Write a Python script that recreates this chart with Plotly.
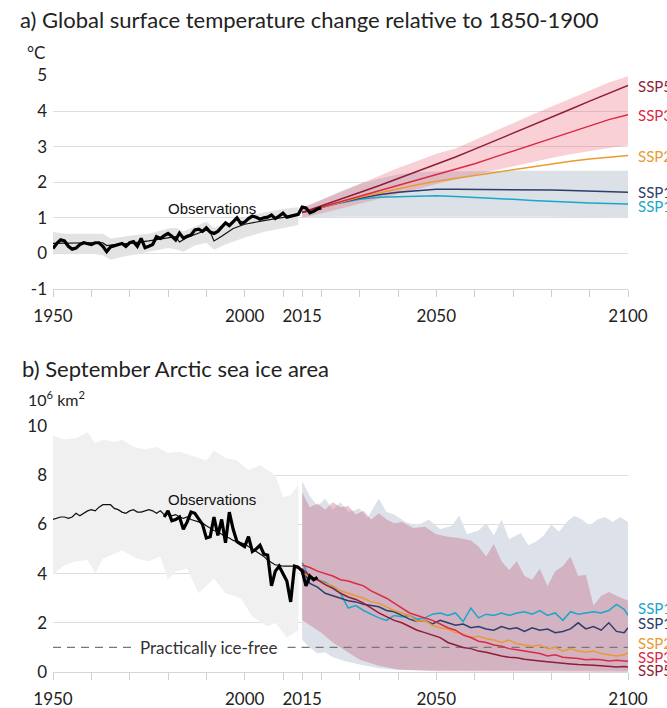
import plotly.graph_objects as go

# ---------------- Panel a: global surface temperature ----------------
obs_t_years = list(range(1950, 2021))
obs_t = [0.14, 0.28, 0.38, 0.35, 0.2, 0.12, 0.15, 0.25, 0.3, 0.28,
         0.25, 0.3, 0.3, 0.2, 0.05, 0.18, 0.22, 0.24, 0.28, 0.2,
         0.3, 0.33, 0.2, 0.42, 0.16, 0.2, 0.25, 0.47, 0.42, 0.5,
         0.56, 0.48, 0.38, 0.57, 0.43, 0.48, 0.52, 0.66, 0.68, 0.62,
         0.72, 0.6, 0.56, 0.62, 0.74, 0.86, 0.78, 0.9, 1.0, 0.84,
         0.88, 0.98, 1.05, 1.02, 0.96, 1.0, 1.02, 1.08, 0.98, 1.05,
         1.13, 1.02, 1.04, 1.06, 1.1, 1.3, 1.28, 1.14, 1.18, 1.25, 1.28]

hist_t_years = [1950, 1955, 1960, 1963, 1964, 1966, 1970, 1975, 1980, 1982, 1983,
                1985, 1990, 1991, 1992, 1994, 1997, 2000, 2005, 2010, 2014]
hist_t = [0.28, 0.3, 0.3, 0.3, 0.22, 0.25, 0.28, 0.35, 0.45, 0.47, 0.32,
          0.45, 0.65, 0.6, 0.35, 0.48, 0.7, 0.82, 0.92, 1.02, 1.08]

hist_t_band_years = [1950, 1953, 1956, 1960, 1963, 1965, 1968, 1970, 1975, 1980, 1982,
                     1984, 1987, 1990, 1992, 1995, 2000, 2005, 2010, 2014]
hist_t_upper = [0.6, 0.55, 0.55, 0.55, 0.55, 0.42, 0.48, 0.5, 0.55, 0.7, 0.72,
                0.62, 0.75, 0.9, 0.72, 0.85, 1.02, 1.15, 1.25, 1.3]
hist_t_lower = [0.0, 0.02, -0.02, 0.0, -0.05, -0.18, -0.1, -0.05, 0.05, 0.15, 0.12,
                0.05, 0.22, 0.3, 0.1, 0.25, 0.45, 0.6, 0.72, 0.8]

proj_t_years = list(range(2015, 2101, 5))
t_ssp585 = [1.15, 1.33, 1.52, 1.71, 1.9, 2.1, 2.3, 2.5, 2.71, 2.93, 3.15, 3.37, 3.6, 3.83, 4.05, 4.28, 4.5, 4.72]
t_ssp370 = [1.15, 1.3, 1.45, 1.6, 1.75, 1.9, 2.05, 2.2, 2.35, 2.52, 2.7, 2.88, 3.06, 3.24, 3.42, 3.6, 3.76, 3.9]
t_ssp245 = [1.15, 1.3, 1.45, 1.58, 1.7, 1.82, 1.93, 2.03, 2.11, 2.2, 2.28, 2.36, 2.44, 2.52, 2.59, 2.65, 2.7, 2.75]
t_ssp126 = [1.15, 1.3, 1.43, 1.55, 1.65, 1.72, 1.77, 1.8, 1.8, 1.8, 1.8, 1.8, 1.79, 1.78, 1.77, 1.75, 1.73, 1.72]
t_ssp119 = [1.15, 1.3, 1.42, 1.52, 1.58, 1.6, 1.62, 1.62, 1.6, 1.58, 1.55, 1.52, 1.49, 1.46, 1.44, 1.42, 1.4, 1.39]

t_high_upper = [1.3, 1.5, 1.72, 1.95, 2.18, 2.4, 2.6, 2.8, 2.95, 3.18, 3.42, 3.66, 3.9, 4.13, 4.35, 4.58, 4.8, 4.98]
t_high_lower = [1.0, 1.12, 1.25, 1.38, 1.52, 1.66, 1.8, 1.95, 2.08, 2.2, 2.33, 2.45, 2.57, 2.68, 2.79, 2.88, 2.96, 3.03]
t_low_upper = [1.25, 1.5, 1.75, 1.95, 2.1, 2.22, 2.28, 2.3, 2.31, 2.31, 2.32, 2.32, 2.32, 2.32, 2.32, 2.32, 2.32, 2.32]
t_low_lower = [1.0, 1.02, 1.03, 1.05, 1.05, 1.05, 1.05, 1.05, 1.05, 1.05, 1.04, 1.04, 1.03, 1.03, 1.02, 1.01, 1.0, 1.0]

# ---------------- Panel b: September Arctic sea ice area ----------------
obs_i_years = list(range(1979, 2020))
obs_i = [6.3, 6.55, 6.15, 6.2, 6.3, 5.8, 6.1, 6.5, 6.45, 6.2,
         6.0, 5.45, 5.5, 6.3, 5.55, 6.2, 5.25, 6.5, 5.8, 5.3,
         5.2, 5.1, 5.5, 4.9, 5.0, 5.15, 4.8, 4.75, 3.5, 4.1,
         4.3, 4.0, 3.7, 2.85, 4.3, 4.25, 4.1, 3.5, 3.9, 3.75, 3.85]

hist_i_years = list(range(1950, 2015))
hist_i = [6.2, 6.25, 6.3, 6.3, 6.25, 6.3, 6.45, 6.35, 6.45, 6.55,
          6.6, 6.55, 6.7, 6.8, 6.8, 6.8, 6.65, 6.6, 6.5, 6.45,
          6.55, 6.6, 6.5, 6.5, 6.55, 6.6, 6.55, 6.45, 6.55, 6.4,
          6.45, 6.35, 6.4, 6.3, 6.25, 6.3, 6.2, 6.15, 6.1, 6.05,
          5.95, 5.85, 5.75, 5.7, 5.6, 5.5, 5.45, 5.35, 5.3, 5.25,
          5.2, 5.1, 5.0, 4.9, 4.8, 4.7, 4.55, 4.45, 4.35, 4.35,
          4.3, 4.3, 4.3, 4.3, 4.3]

hist_i_up_years = [1950, 1953, 1956, 1959, 1961, 1963, 1966, 1968, 1971, 1974, 1977, 1980,
                   1983, 1986, 1990, 1992, 1995, 1998, 2001, 2004, 2008, 2010, 2012, 2014]
hist_i_upper = [9.6, 9.45, 9.5, 9.75, 9.3, 9.45, 9.35, 9.45, 9.15, 9.05, 9.15, 8.9,
                8.95, 8.8, 8.6, 9.0, 8.7, 8.6, 8.2, 8.4, 8.0, 7.1, 7.2, 7.6]
hist_i_lo_years = [1950, 1953, 1956, 1959, 1961, 1963, 1966, 1968, 1972, 1975, 1978, 1980,
                   1982, 1985, 1988, 1992, 1995, 1999, 2002, 2006, 2008, 2011, 2014]
hist_i_lower = [3.95, 4.35, 4.5, 4.55, 4.0, 4.6, 4.8, 4.95, 4.6, 4.5, 4.7, 3.75,
                4.1, 4.2, 3.2, 3.8, 3.2, 3.0, 2.25, 1.85, 2.0, 1.4, 1.7]

proj_i_years = list(range(2015, 2100, 2)) + [2100]
i_ssp119 = [4.45, 3.8, 3.75, 3.65, 3.45, 3.2, 2.6, 2.7, 2.5, 2.35, 2.2, 2.1, 2.3, 2.25, 2.3,
            2.15, 2.2, 2.35, 2.4, 2.3, 2.4, 2.05, 2.6, 2.2, 2.35, 2.3, 2.4, 2.3, 2.4, 2.45,
            2.35, 2.5, 2.3, 2.4, 2.1, 2.45, 2.35, 2.4, 2.45, 2.4, 2.5, 2.75, 2.55, 2.3]
i_ssp126 = [4.2, 3.6, 3.45, 3.2, 3.1, 3.0, 2.9, 2.85, 2.75, 2.7, 2.65, 2.5, 2.45, 2.3, 2.15,
            2.05, 2.1, 1.95, 2.1, 2.0, 1.9, 1.95, 1.8, 1.85, 1.75, 1.7, 1.85, 1.75, 1.8, 1.65,
            1.8, 1.7, 1.75, 1.6, 1.65, 1.75, 2.0, 1.75, 1.85, 1.7, 2.0, 1.65, 1.6, 1.8]
i_ssp245 = [4.0, 3.9, 3.75, 3.6, 3.5, 3.3, 3.2, 3.1, 3.0, 2.85, 2.8, 2.65, 2.5, 2.4, 2.3,
            2.05, 2.1, 1.9, 1.8, 1.75, 1.6, 1.55, 1.4, 1.45, 1.35, 1.3, 1.2, 1.3, 1.15, 1.1,
            1.05, 1.1, 0.95, 1.0, 0.85, 0.95, 0.85, 0.8, 0.85, 0.75, 0.7, 0.65, 0.7, 0.78]
i_ssp370 = [4.35, 4.25, 4.1, 4.0, 3.9, 3.75, 3.7, 3.6, 3.5, 3.3, 3.15, 3.0, 2.8, 2.6, 2.4,
            2.3, 2.2, 2.1, 1.95, 1.8, 1.7, 1.5, 1.4, 1.25, 1.2, 1.1, 1.05, 0.95, 0.9, 0.85,
            0.8, 0.75, 0.65, 0.7, 0.6, 0.58, 0.55, 0.5, 0.52, 0.5, 0.45, 0.48, 0.45, 0.44]
i_ssp585 = [4.2, 3.9, 3.75, 3.55, 3.4, 3.2, 3.05, 2.95, 2.8, 2.6, 2.4, 2.25, 2.1, 2.0, 1.85,
            1.7, 1.6, 1.5, 1.4, 1.2, 1.1, 1.0, 0.95, 0.85, 0.8, 0.72, 0.65, 0.6, 0.58, 0.52,
            0.5, 0.45, 0.42, 0.4, 0.38, 0.33, 0.3, 0.3, 0.27, 0.25, 0.22, 0.2, 0.22, 0.2]

low_up_years = [2015, 2017, 2019, 2021, 2023, 2025, 2027, 2030, 2032, 2035, 2037, 2039, 2042,
                2045, 2048, 2051, 2054, 2056, 2058, 2061, 2063, 2065, 2067, 2069, 2072, 2074,
                2076, 2078, 2080, 2082, 2084, 2086, 2088, 2090, 2092, 2094, 2096, 2098, 2100]
i_low_upper = [7.75, 7.15, 6.75, 7.05, 6.6, 6.9, 6.5, 6.65, 6.25, 7.05, 6.5, 6.4, 6.1,
               5.95, 6.2, 5.8, 5.95, 6.35, 5.6, 5.75, 6.05, 5.55, 6.2, 5.4, 5.65, 5.15,
               5.3, 5.55, 6.0, 5.7, 6.1, 6.35, 6.2, 5.95, 6.2, 6.3, 6.1, 6.3, 6.1]
low_lo_years = [2015, 2017, 2019, 2021, 2023, 2026, 2030, 2035, 2040, 2100]
i_low_lower = [1.3, 1.0, 0.75, 0.8, 0.6, 0.45, 0.3, 0.15, 0.08, 0.05]

high_up_years = [2015, 2017, 2019, 2021, 2023, 2025, 2027, 2029, 2031, 2033, 2035, 2037, 2039,
                 2041, 2044, 2047, 2050, 2053, 2056, 2059, 2061, 2063, 2065, 2067, 2069, 2071,
                 2073, 2075, 2077, 2079, 2081, 2083, 2085, 2087, 2089, 2091, 2093, 2095, 2097, 2100]
i_high_upper = [7.3, 6.7, 6.85, 6.6, 6.9, 6.7, 6.75, 6.4, 6.55, 6.2, 6.45, 6.2, 6.05,
                6.1, 5.85, 5.9, 5.6, 5.5, 5.45, 5.35, 5.1, 4.7, 5.2, 4.5, 4.15, 4.5,
                3.9, 3.75, 4.2, 3.5, 4.1, 4.3, 4.7, 3.9, 3.95, 2.7, 3.1, 3.25, 3.1, 2.9]
high_lo_years = [2015, 2018, 2020, 2023, 2026, 2030, 2035, 2040, 2050, 2100]
i_high_lower = [2.1, 1.8, 1.6, 1.2, 0.9, 0.5, 0.25, 0.1, 0.03, 0.0]

ICE_FREE = 1.0

SCEN_NAMES = ["SSP5-8.5", "SSP3-7.0", "SSP2-4.5", "SSP1-2.6", "SSP1-1.9"]
SCEN_COLORS = ["#8f1d36", "#dc2a45", "#eb9a32", "#2c3e6b", "#1aa7cc"]

tick_years = [1950, 1960, 1970, 1980, 1990, 2000, 2010, 2015, 2020, 2030,
              2040, 2050, 2060, 2070, 2080, 2090, 2100]
tick_labels = ["1950", "", "", "", "", "2000", "", "2015", "", "",
               "", "2050", "", "", "", "", "2100"]
temp_ticks = [-1, 0, 1, 2, 3, 4, 5]
temp_tick_labels = ["-1", "0", "1", "2", "3", "4", "5"]
ice_ticks = [0, 2, 4, 6, 8, 10]

FONT = "Lato"
OBS_FONT = "Liberation Sans, Arial"
W, H = 667, 708


def band(xu, yu, xl, yl, color, xa, ya):
    return go.Scatter(x=list(xu) + list(reversed(xl)), y=list(yu) + list(reversed(yl)),
                      fill="toself", fillcolor=color, mode="lines", line=dict(width=0),
                      hoverinfo="skip", showlegend=False, xaxis=xa, yaxis=ya)


fig = go.Figure()

# Panel a
fig.add_trace(band(hist_t_band_years, hist_t_upper, hist_t_band_years, hist_t_lower, "#e3e3e3", "x", "y"))
fig.add_trace(band(proj_t_years, t_low_upper, proj_t_years, t_low_lower, "#dce1e8", "x", "y"))
fig.add_trace(band(proj_t_years, t_high_upper, proj_t_years, t_high_lower, "rgba(230,80,100,0.27)", "x", "y"))
fig.add_trace(go.Scatter(x=hist_t_years, y=hist_t, mode="lines", line=dict(color="#111", width=1.2),
                         showlegend=False, xaxis="x", yaxis="y"))
t_series = [t_ssp585, t_ssp370, t_ssp245, t_ssp126, t_ssp119]
for vals, col in zip(reversed(t_series), reversed(SCEN_COLORS)):
    fig.add_trace(go.Scatter(x=proj_t_years, y=vals, mode="lines", line=dict(color=col, width=1.5),
                             showlegend=False, xaxis="x", yaxis="y"))
fig.add_trace(go.Scatter(x=obs_t_years, y=obs_t, mode="lines", line=dict(color="#000", width=3.2),
                         showlegend=False, xaxis="x", yaxis="y"))

# Panel b
fig.add_trace(band(hist_i_up_years, hist_i_upper, hist_i_lo_years, hist_i_lower, "#f0f0f0", "x2", "y2"))
fig.add_trace(band(low_up_years, i_low_upper, low_lo_years, i_low_lower, "#dde2ea", "x2", "y2"))
fig.add_trace(band(high_up_years, i_high_upper, high_lo_years, i_high_lower, "rgba(195,100,130,0.38)", "x2", "y2"))
fig.add_trace(go.Scatter(x=[1950, 1970.4, None, 2011.2, 2100], y=[ICE_FREE, ICE_FREE, None, ICE_FREE, ICE_FREE],
                         mode="lines", line=dict(color="#777", width=1.4, dash="8px,6px"),
                         showlegend=False, xaxis="x2", yaxis="y2"))
fig.add_trace(go.Scatter(x=hist_i_years, y=hist_i, mode="lines", line=dict(color="#111", width=1.2),
                         showlegend=False, xaxis="x2", yaxis="y2"))
i_series = [i_ssp585, i_ssp370, i_ssp245, i_ssp126, i_ssp119]
for vals, col in zip(reversed(i_series), reversed(SCEN_COLORS)):
    fig.add_trace(go.Scatter(x=proj_i_years, y=vals, mode="lines", line=dict(color=col, width=1.5),
                             showlegend=False, xaxis="x2", yaxis="y2"))
fig.add_trace(go.Scatter(x=obs_i_years, y=obs_i, mode="lines", line=dict(color="#000", width=3.2),
                         showlegend=False, xaxis="x2", yaxis="y2"))

xdom = [53 / W, 628 / W]
common_x = dict(domain=xdom, range=[1950, 2100], tickmode="array", tickvals=tick_years,
                ticktext=tick_labels, ticks="outside", ticklen=7, tickcolor="#cfcfcf",
                showline=True, linecolor="#d6d6d6", linewidth=1.2, showgrid=False, zeroline=False,
                automargin=False,
                tickfont=dict(family=FONT, size=17, color="#222"), ticklabelstandoff=4)
common_y = dict(showgrid=True, gridcolor="#dedede", gridwidth=1.2, zeroline=False, showline=False,
                automargin=False, tickmode="array",
                ticks="", tickfont=dict(family=FONT, size=17, color="#222"), ticklabelstandoff=5)

fig.update_layout(
    template="none",
    width=W, height=H, margin=dict(l=0, r=0, t=0, b=0, autoexpand=False),
    paper_bgcolor="white", plot_bgcolor="white", showlegend=False,
    xaxis=dict(anchor="y", **common_x),
    yaxis=dict(anchor="x", domain=[1 - 289 / H, 1 - 75.5 / H], range=[-1, 5],
               tickvals=temp_ticks, ticktext=temp_tick_labels, **common_y),
    xaxis2=dict(anchor="y2", **common_x),
    yaxis2=dict(anchor="x2", domain=[1 - 672 / H, 1 - 426 / H], range=[0, 10],
                tickvals=ice_ticks, ticktext=[str(v) for v in ice_ticks], **common_y),
)

ann = []
ann.append(dict(text="a) Global surface temperature change relative to 1850-1900", x=18 / W, y=1 - 19 / H,
                xref="paper", yref="paper", xanchor="left", yanchor="middle", showarrow=False,
                font=dict(family=FONT, size=22, color="#222")))
ann.append(dict(text="°C", x=25 / W, y=1 - 53 / H, xref="paper", yref="paper", xanchor="left",
                yanchor="middle", showarrow=False, font=dict(family=FONT, size=17, color="#222")))
ann.append(dict(text="b) September Arctic sea ice area", x=20 / W, y=1 - 368 / H,
                xref="paper", yref="paper", xanchor="left", yanchor="middle", showarrow=False,
                font=dict(family=FONT, size=22, color="#222")))
ann.append(dict(text="10<sup>6</sup> km<sup>2</sup>", x=26 / W, y=1 - 398 / H, xref="paper", yref="paper",
                xanchor="left", yanchor="middle", showarrow=False, font=dict(family=FONT, size=16, color="#222")))
ann.append(dict(text="Observations", x=1991.5, y=1.25, xref="x", yref="y", xanchor="center", yanchor="middle",
                showarrow=False, font=dict(family=OBS_FONT, size=15, color="#111")))
ann.append(dict(text="Observations", x=1991.5, y=7.0, xref="x2", yref="y2", xanchor="center", yanchor="middle",
                showarrow=False, font=dict(family=OBS_FONT, size=15, color="#111")))
ann.append(dict(text="Practically ice-free", x=1990.8, y=ICE_FREE, xref="x2", yref="y2", xanchor="center",
                yanchor="middle", showarrow=False, font=dict(family=FONT, size=17, color="#333")))

label_y_a = [4.70, 3.90, 2.75, 1.73, 1.32]
label_y_b = [0.08, 0.62, 1.18, 2.0, 2.6]
for name, col, ya, yb in zip(SCEN_NAMES, SCEN_COLORS, label_y_a, label_y_b):
    ann.append(dict(text=name, x=636 / W, y=ya, xref="paper", yref="y", xanchor="left", yanchor="middle",
                    showarrow=False, font=dict(family=FONT, size=15, color=col)))
    ann.append(dict(text=name, x=636 / W, y=yb, xref="paper", yref="y2", xanchor="left", yanchor="middle",
                    showarrow=False, font=dict(family=FONT, size=15, color=col)))
fig.update_layout(annotations=ann)

fig.write_html("out.html", config={"displayModeBar": False},
               post_script="document.body.style.margin='0';document.body.style.overflow='hidden';")
